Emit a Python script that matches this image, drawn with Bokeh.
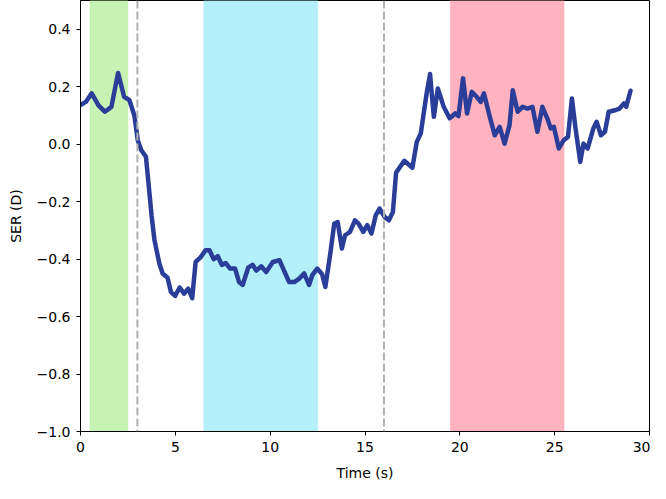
from bokeh.plotting import figure
from bokeh.models import Range1d, FixedTicker, BoxAnnotation, Span, CustomJSTickFormatter
from bokeh.embed import file_html
from bokeh.resources import INLINE

time_s = [0.0, 0.28, 0.59, 0.95, 1.28, 1.63, 1.98, 2.3, 2.58, 2.84, 3.02, 3.2, 3.45, 3.62, 3.75, 3.9,
          4.16, 4.33, 4.59, 4.77, 4.99, 5.23, 5.46, 5.68, 5.89, 6.07, 6.33, 6.59, 6.8, 7.02, 7.24,
          7.45, 7.66, 7.89, 8.15, 8.36, 8.55, 8.84, 9.07, 9.27, 9.53, 9.79, 10.14, 10.49, 11.0,
          11.27, 11.53, 11.79, 12.05, 12.22, 12.48, 12.74, 12.91, 13.17, 13.38, 13.56, 13.78,
          13.95, 14.21, 14.47, 14.65, 14.91, 15.12, 15.34, 15.57, 15.77, 16.03, 16.26, 16.47,
          16.64, 17.07, 17.5, 17.73, 17.94, 18.25, 18.43, 18.63, 18.84, 19.15, 19.46, 19.76,
          19.93, 20.17, 20.38, 20.63, 20.89, 21.1, 21.27, 21.58, 21.84, 22.1, 22.36, 22.62,
          22.79, 23.05, 23.31, 23.57, 23.83, 24.09, 24.35, 24.61, 24.79, 24.96, 25.22, 25.48,
          25.7, 25.91, 26.09, 26.35, 26.52, 26.74, 27.04, 27.21, 27.44, 27.65, 27.85, 28.17,
          28.42, 28.65, 28.77, 29.0]
ser_d = [0.136, 0.147, 0.177, 0.135, 0.113, 0.13, 0.248, 0.165, 0.153, 0.10, 0.014, -0.02, -0.044,
         -0.16, -0.25, -0.334, -0.416, -0.45, -0.465, -0.515, -0.528, -0.499, -0.52, -0.503,
         -0.536, -0.41, -0.394, -0.369, -0.369, -0.40, -0.39, -0.42, -0.414, -0.433, -0.433,
         -0.48, -0.49, -0.43, -0.42, -0.44, -0.425, -0.445, -0.41, -0.404, -0.48, -0.48, -0.468,
         -0.45, -0.49, -0.456, -0.433, -0.453, -0.497, -0.381, -0.276, -0.271, -0.363, -0.317,
         -0.305, -0.265, -0.276, -0.305, -0.282, -0.311, -0.247, -0.224, -0.253, -0.265, -0.236,
         -0.099, -0.058, -0.082, 0.008, 0.037, 0.177, 0.244, 0.095, 0.194, 0.13, 0.09, 0.107,
         0.098, 0.229, 0.107, 0.182, 0.165, 0.147, 0.177, 0.095, 0.031, 0.06, 0.002, 0.066,
         0.188, 0.113, 0.13, 0.124, 0.13, 0.043, 0.13, 0.09, 0.055, 0.06, -0.015, 0.014, 0.025,
         0.159, 0.06, -0.062, 0.002, -0.015, 0.055, 0.078, 0.031, 0.043, 0.113, 0.118, 0.124,
         0.142, 0.13, 0.186]

band_starts = [0.5, 6.5, 19.5]
band_ends = [2.5, 12.5, 25.5]
band_colors = ["#c6f3b4", "#b3f0fa", "#ffb3bf"]
band_edges = ["#a8e890", "#8fe3f2", "#f59aa8"]
event_times = [3.0, 16.0]

x_ticks = [0, 5, 10, 15, 20, 25, 30]
y_ticks = [-1.0, -0.8, -0.6, -0.4, -0.2, 0.0, 0.2, 0.4]

p = figure(width=650, height=483, output_backend="svg", toolbar_location=None,
           x_range=Range1d(0, 30), y_range=Range1d(-1.0, 0.5),
           min_border_left=80, min_border_right=1, min_border_top=0, min_border_bottom=52)
p.background_fill_color = "white"
p.border_fill_color = "white"
p.outline_line_color = "black"
p.outline_line_width = 1
p.xgrid.visible = False
p.ygrid.visible = False

for s, e, c, ec in zip(band_starts, band_ends, band_colors, band_edges):
    p.add_layout(BoxAnnotation(left=s, right=e, fill_color=c, fill_alpha=1.0,
                               line_color=ec, line_width=1, level="underlay"))
for t in event_times:
    p.add_layout(Span(location=t, dimension="height", line_color="#b0b0b0",
                      line_width=2, line_dash="8 3"))

p.line(time_s, ser_d, line_color="#2a3d98", line_width=4.5, line_join="round", line_cap="round")

fmt = CustomJSTickFormatter(code="return tick.toFixed(1).replace('-', '\u2212');")
fmt_x = CustomJSTickFormatter(code="return tick.toFixed(0);")
p.xaxis.ticker = FixedTicker(ticks=x_ticks)
p.yaxis.ticker = FixedTicker(ticks=y_ticks)
p.yaxis.formatter = fmt
p.xaxis.formatter = fmt_x
p.xaxis.axis_label = "Time (s)"
p.yaxis.axis_label = "SER (D)"
for ax in (p.xaxis, p.yaxis):
    ax.axis_label_text_font = "DejaVu Sans"
    ax.axis_label_text_font_size = "14px"
    ax.axis_label_text_font_style = "normal"
    ax.major_label_text_font = "DejaVu Sans"
    ax.major_label_text_font_size = "14px"
    ax.axis_line_color = "black"
    ax.major_tick_line_color = "black"
    ax.major_tick_out = 4
    ax.major_tick_in = 0
    ax.minor_tick_out = 0
    ax.minor_tick_in = 0
    ax.major_label_text_color = "black"
    ax.axis_label_text_color = "black"
p.xaxis.axis_label_standoff = 10
p.yaxis.axis_label_standoff = 10
p.xaxis.major_label_standoff = 6
p.yaxis.major_label_standoff = 6

open("out.html", "w").write(file_html(p, INLINE))
